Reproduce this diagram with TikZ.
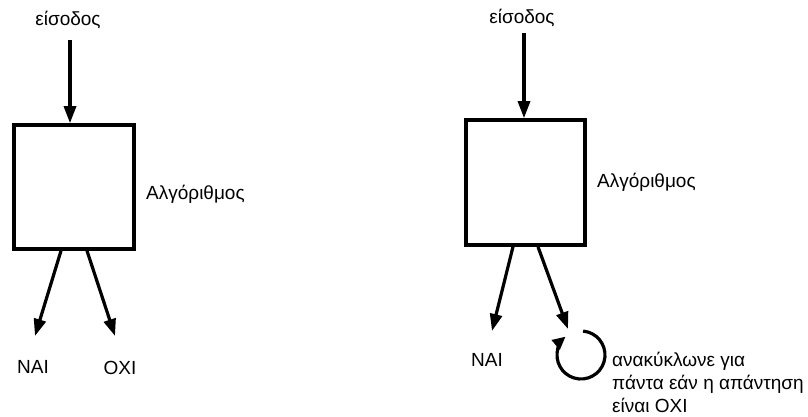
\documentclass[tikz,border=0pt]{standalone}
\usepackage{fontspec}
\setmainfont{Liberation Sans}
\usetikzlibrary{arrows.meta,calc}
\begin{document}
\begin{tikzpicture}[x=1pt,y=-1pt,
  algbox/.style={draw,line width=3.6pt,inner sep=0pt},
  lbl/.style={font=\fontsize{19}{23}\selectfont,inner sep=0pt},
  arr/.style={line width=3.2pt,-{Triangle[length=17pt,width=12pt]}}]
\useasboundingbox (0,0) rectangle (808,417);
% left diagram
\node[lbl] (inL) at (68,20) {είσοδος};
\node[algbox,minimum width=120pt,minimum height=124pt] (boxL) at (74,187) {};
\node[lbl,anchor=west] (algL) at (146,194) {Αλγόριθμος};
\coordinate (tinL) at (70,40);
\coordinate (tL1) at (35,336);
\coordinate (tL2) at (115,336);
\node[lbl] (naiL) at (33,367) {ΝΑΙ};
\node[lbl] (oxiL) at (120,368) {ΟΧΙ};
\draw[arr] (tinL) -- (tinL |- boxL.north);
\draw[arr] ([xshift=-13pt]boxL.south) -- (tL1);
\draw[arr] ([xshift=13pt]boxL.south) -- (tL2);
% right diagram
\node[lbl] (inR) at (522,18) {είσοδος};
\node[algbox,minimum width=119pt,minimum height=125pt] (boxR) at (525.5,182.5) {};
\node[lbl,anchor=west] (algR) at (597,182) {Αλγόριθμος};
\coordinate (tinR) at (524,33);
\coordinate (tR1) at (492,331);
\coordinate (tR2) at (568,329);
\node[lbl] (naiR) at (487,360) {ΝΑΙ};
\draw[arr] (tinR) -- (tinR |- boxR.north);
\draw[arr] ([xshift=-12.5pt]boxR.south) -- (tR1);
\draw[arr] ([xshift=12.5pt]boxR.south) -- (tR2);
\coordinate (loopc) at (581,355);
\draw[line width=3.2pt,-{Triangle[length=13pt,width=12pt]}] ($(loopc)+(-85:24)$) arc[start angle=-85,end angle=230,radius=24];
\node[lbl,anchor=north west,align=left] (loopt) at (612,352) {ανακύκλωνε για\\πάντα εάν η απάντηση\\είναι ΟΧΙ};
\end{tikzpicture}
\end{document}
